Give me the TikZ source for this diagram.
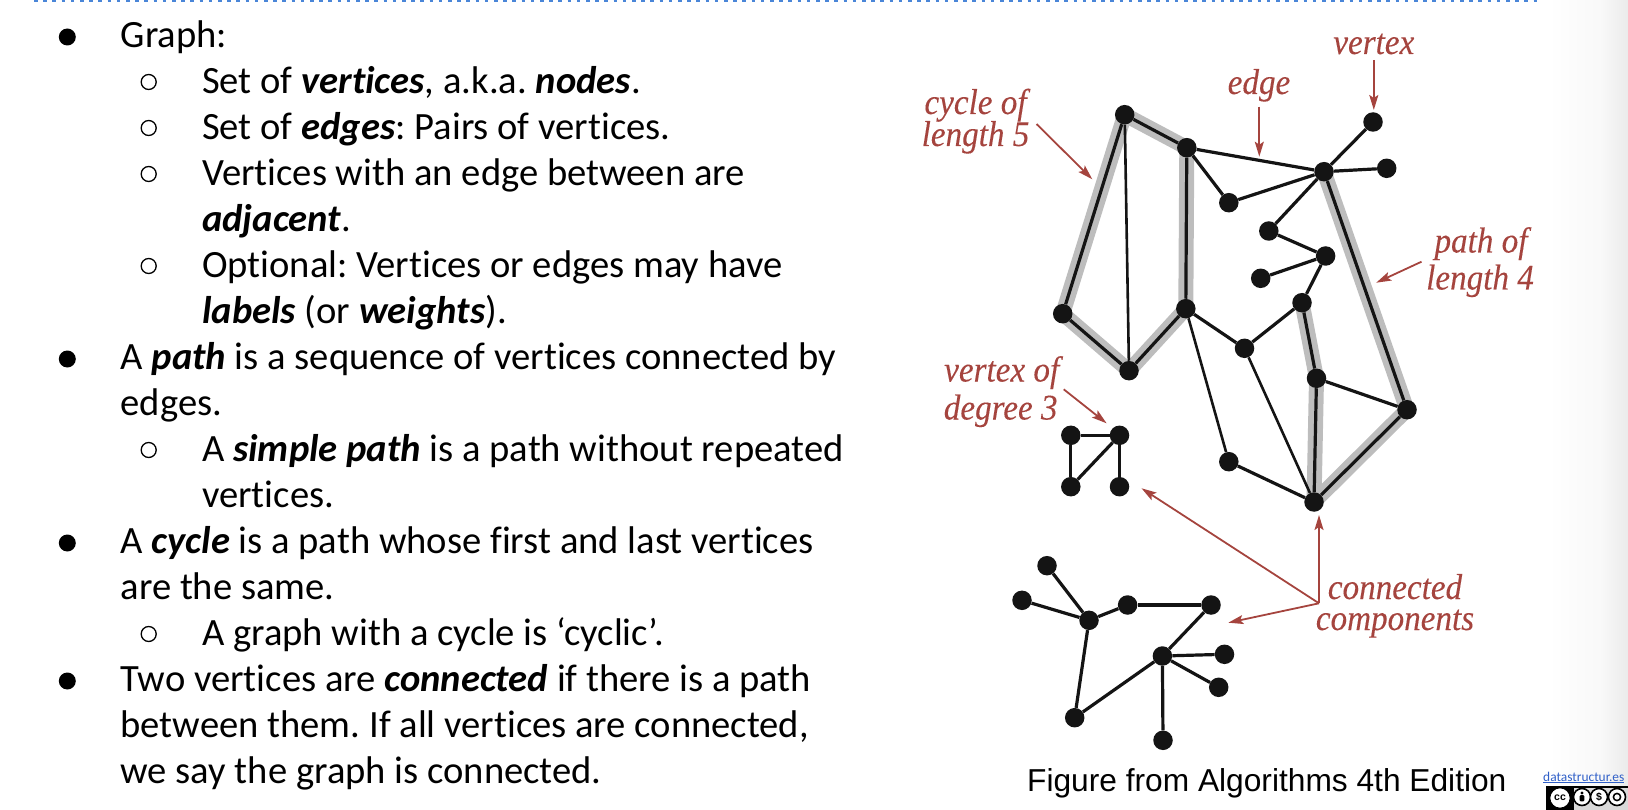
\documentclass[tikz,border=0pt]{standalone}
\usepackage{fontspec}
\setmainfont{Carlito}[Ligatures=NoCommon]
\newfontfamily\capfont{Liberation Sans}
\newfontfamily\redfont{Liberation Serif}[FakeBold=0.12,FakeStretch=0.92]
\usetikzlibrary{arrows.meta,backgrounds}
\definecolor{redc}{HTML}{A5443E}
\definecolor{hlc}{HTML}{BDBDBD}
\definecolor{vtxc}{HTML}{141414}
\definecolor{topc}{HTML}{4A86D8}
\definecolor{linkc}{HTML}{2F5FC8}
\tikzset{
  x=1pt,y=-1pt,
  txt/.style={anchor=base west,inner sep=0pt,font=\fontsize{38.6}{46}\selectfont\frenchspacing},
  bul/.style={circle,fill=black,minimum size=17pt,inner sep=0pt},
  sub/.style={circle,draw=black,line width=1.3pt,minimum size=15pt,inner sep=0pt},
  vtx/.style={circle,fill=vtxc,minimum size=19.5pt,inner sep=0pt},
  ed/.style={draw=vtxc,line width=3.2pt},
  edthin/.style={draw=vtxc,line width=2.6pt},
  hl/.style={draw=hlc,line width=15pt,line join=round},
  redl/.style={anchor=base,inner sep=0pt,text=redc,font=\redfont\itshape\fontsize{36}{40}\selectfont},
  arr/.style={draw=redc,line width=1.8pt,-{Stealth[length=15pt,width=9pt,inset=3pt]}},
  ccring/.style={circle,fill=white,draw=black,line width=1.6pt,inner sep=0pt},
}
\newcommand{\bi}[1]{\textbf{\textit{#1}}}
\begin{document}
\begin{tikzpicture}
\useasboundingbox (0,0) rectangle (1628,810);
% text
\node[bul] (b1) at (67.3,37) {};
\node[txt] (t1) at (120.5,47.5) {Graph:};
\node[sub] (s1) at (148.7,82) {};
\node[txt] (t2) at (202,93.5) {Set of \bi{vertices}, a.k.a. \bi{nodes}.};
\node[sub] (s2) at (148.7,128) {};
\node[txt] (t3) at (202,139.5) {Set of \bi{edges}: Pairs of vertices.};
\node[sub] (s3) at (148.7,174) {};
\node[txt] (t4) at (202,185.5) {Vertices with an edge between are};
\node[txt] (t5) at (202,231.5) {\bi{adjacent}.};
\node[sub] (s4) at (148.7,266) {};
\node[txt] (t6) at (202,277.5) {Optional: Vertices or edges may have};
\node[txt] (t7) at (202,323.5) {\bi{labels} (or \bi{weights}).};
\node[bul] (b2) at (67.3,359) {};
\node[txt] (t8) at (120.5,369.5) {A \bi{path} is a sequence of vertices connected by};
\node[txt] (t9) at (120.5,415.5) {edges.};
\node[sub] (s5) at (148.7,450) {};
\node[txt] (t10) at (202,461.5) {A \bi{simple path} is a path without repeated};
\node[txt] (t11) at (202,507.5) {vertices.};
\node[bul] (b3) at (67.3,543) {};
\node[txt] (t12) at (120.5,553.5) {A \bi{cycle} is a path whose first and last vertices};
\node[txt] (t13) at (120.5,599.5) {are the same.};
\node[sub] (s6) at (148.7,634) {};
\node[txt] (t14) at (202,645.5) {A graph with a cycle is ‘cyclic’.};
\node[bul] (b4) at (67.3,681) {};
\node[txt] (t15) at (120.5,691) {Two vertices are \bi{connected} if there is a path};
\node[txt] (t16) at (120.5,737) {between them. If all vertices are connected,};
\node[txt] (t17) at (120.5,783) {we say the graph is connected.};
% vertices
\foreach \n/\x/\y in {A/1124.7/114.7,B/1186.8/147.7,C/1324/171.7,V/1373/122,W/1386.7/168.3,
 D/1228.8/202.7,E/1268.8/231,F/1325.6/256,G/1260.7/278.3,H/1302/302.7,I/1185.8/308.7,
 J/1062.7/313.7,K/1129/370.7,L/1244.5/348.3,M/1316.5/378.3,N/1407/409.7,O/1228.8/461.7,P/1314/502,
 a/1070.8/435.3,b/1119.5/435.3,c/1070.8/486.7,d/1119.5/486.7,
 q/1047/565.7,r/1022/600.3,s/1089/620.3,t/1127.6/605,u/1211/605,v/1162.4/656,w/1224.5/654.3,
 x/1218.7/687.3,y/1074.7/717.7,z/1163/740.3}
  {\node[vtx] (\n) at (\x,\y) {};}
\begin{pgfonlayer}{background}
\shade[left color=white,right color=black!2.5,draw=none] (1548,0) rectangle (1600,810);
\shade[left color=black!2.5,right color=black!8,draw=none] (1600,0) rectangle (1628,810);
\draw[topc,line width=2pt,dash pattern=on 3.5pt off 5.7pt] (34,0.8) -- (1541,0.8);
\draw[hl] (A.center) -- (B.center) -- (I.center) -- (K.center) -- (J.center) -- cycle;
\draw[hl] (C.center) -- (N.center) -- (P.center) -- (M.center) -- (H.center);
\foreach \p/\q in {A/B,A/J,B/C,B/I,B/D,D/C,C/V,C/W,C/E,E/F,F/G,F/H,H/L,L/I,I/K,J/K,O/P,H/M,M/N,M/P,C/N,N/P,
 a/b,a/c,b/c,b/d,q/s,r/s,s/t,t/u,u/v,s/y,y/v,v/w,v/x,v/z}
  {\draw[ed] (\p) -- (\q);}
\foreach \p/\q in {A/K,I/O,L/P}
  {\draw[edthin] (\p) -- (\q);}
\end{pgfonlayer}
% red labels
\node[redl] (lvertex) at (1373.8,54) {vertex};
\node[redl] (ledge) at (1259,94) {edge};
\node[redl] (lc1) at (975.5,114) {cycle of};
\node[redl] (lc2) at (975.5,146) {length 5};
\node[redl] (lp1) at (1481,252.5) {path of};
\node[redl] (lp2) at (1480,289.5) {length 4};
\node[redl] (ld1) at (1001.7,381.5) {vertex of};
\node[redl] (ld2) at (1000.7,419.5) {degree 3};
\node[redl] (lk1) at (1395,599) {connected};
\node[redl] (lk2) at (1395,630) {components};
\coordinate (av) at (1373.8,60); \coordinate (avt) at (1373.8,110);
\coordinate (ae) at (1259.3,106.7); \coordinate (aet) at (1259.3,156.7);
\coordinate (ac) at (1036.5,124); \coordinate (act) at (1092.3,179.3);
\coordinate (ap) at (1421.5,261.7); \coordinate (apt) at (1376.2,282.7);
\coordinate (ad) at (1063.7,389.3); \coordinate (adt) at (1106.6,423.3);
\coordinate (ak) at (1319,603.3); \coordinate (ak1) at (1141.5,488.3);
\coordinate (ak2) at (1319,515); \coordinate (ak3) at (1228.3,622.7);
\draw[arr] (av) -- (avt);
\draw[arr] (ae) -- (aet);
\draw[arr] (ac) -- (act);
\draw[arr] (ap) -- (apt);
\draw[arr] (ad) -- (adt);
\draw[arr] (ak) -- (ak1);
\draw[arr] (ak) -- (ak2);
\draw[arr] (ak) -- (ak3);
% caption
\node[anchor=base west,inner sep=0pt,font=\capfont\fontsize{31.7}{36}\selectfont] (cap) at (1027,791.5) {Figure from Algorithms 4th Edition};
\node[anchor=base west,inner sep=0pt,text=linkc,font=\fontsize{13.4}{16}\selectfont] (link) at (1543,781) {\underline{datastructur.es}};
% CC badge
\fill[black!15] (1546,786) rectangle (1628,810);
\fill[black] (1546,786) rectangle (1628,787.5);
\fill[black] (1546,787) rectangle (1574,810);
\node[ccring,minimum size=21pt,font=\capfont\bfseries\fontsize{10.5}{10}\selectfont] (c1) at (1560,798) {cc};
\node[ccring,minimum size=17pt] (c2) at (1582,797) {};
\node[ccring,minimum size=17pt,font=\capfont\bfseries\fontsize{10.5}{10}\selectfont] (c3) at (1599,797) {\$};
\node[ccring,minimum size=17pt] (c4) at (1617,797) {};
\fill (c2.center) ++(0,-4) circle (1.6);
\fill[rounded corners=1pt] (c2.center) ++(-2.3,-1.8) rectangle ++(4.6,6.2);
\draw[line width=1.5pt] (c4.center) circle (3.6);
\end{tikzpicture}
\end{document}
